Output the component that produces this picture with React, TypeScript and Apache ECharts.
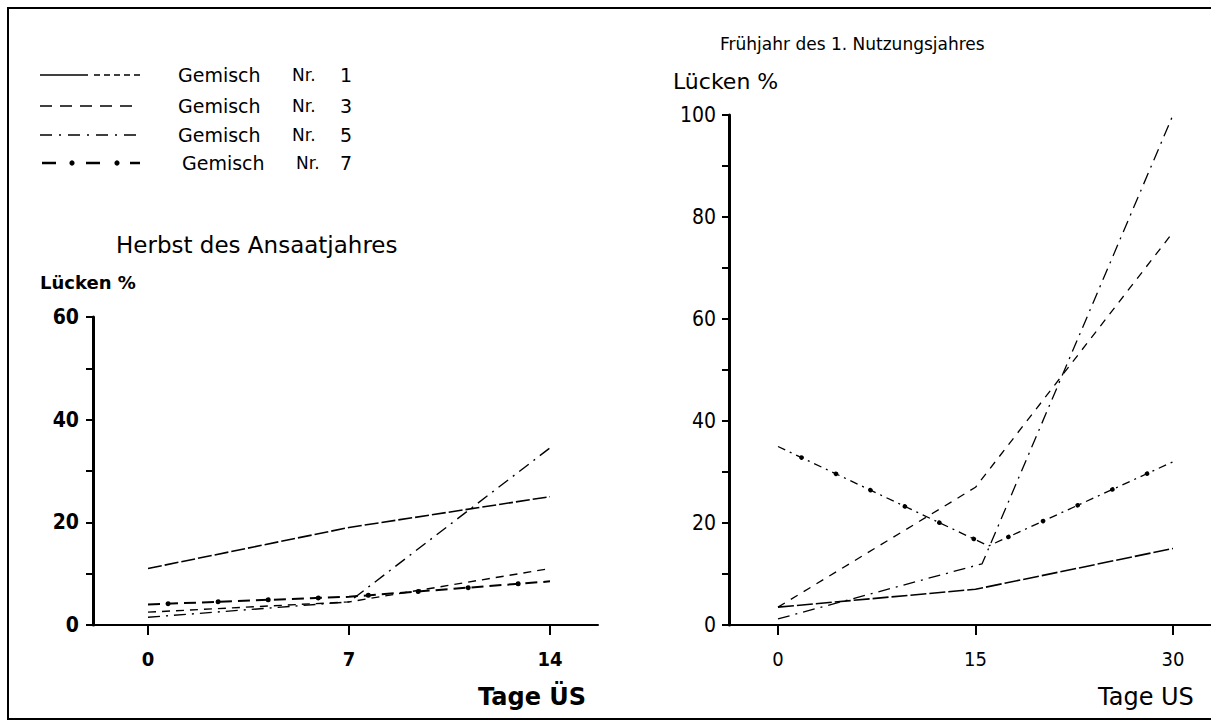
import { useEffect, useRef } from "react";
import * as echarts from "echarts";

// Herbst des Ansaatjahres: days after stress (Tage ÜS) and gap share (Lücken %)
const herbstDays = [0, 7, 14];
const herbstNr1 = [11, 19, 25];
const herbstNr3 = [2.5, 4.5, 11];
const herbstNr5 = [1.5, 4.5, 34.5];
const herbstNr7 = [4, 5.5, 8.5];

// Frühjahr des 1. Nutzungsjahres: [day, Lücken %]
const fruehNr1 = [[0, 3.5], [15, 7], [30, 15]];
const fruehNr3 = [[0, 3.5], [15, 27], [30, 77]];
const fruehNr5 = [[0, 1.2], [15.5, 12], [30, 100]];
const fruehNr7 = [[0, 35], [16, 15.5], [30, 32]];

const herbstTicks = [0, 7, 14];
const fruehTicks = [0, 15, 30];
const herbstYLabels = [0, 20, 40, 60];
const fruehYLabels = [0, 20, 40, 60, 80, 100];

const mixNames = ["Gemisch Nr. 1", "Gemisch Nr. 3", "Gemisch Nr. 5", "Gemisch Nr. 7"];
const mixNumbers = ["1", "3", "5", "7"];

const FONT = "'DejaVu Sans', sans-serif";
const COND = "'DejaVu Sans Condensed', 'DejaVu Sans', sans-serif";

export default function App() {
  const ref = useRef<HTMLDivElement>(null);

  useEffect(() => {
    document.body.style.margin = "0";
    if (!ref.current) return;
    const chart = echarts.init(ref.current, undefined, { renderer: "svg" });

    const pairs = (vals: number[]) => herbstDays.map((d, i) => [d, vals[i]]);

    const lineSeries = (
      name: string,
      data: number[][],
      idx: number,
      type: any,
      width = 1.4,
      extra: any = {}
    ) => ({
      name,
      type: "line",
      xAxisIndex: idx,
      yAxisIndex: idx,
      data,
      symbol: "none",
      silent: true,
      lineStyle: { color: "#000", width, type, ...extra },
    });

    const xAxisBase = (
      gridIndex: number,
      min: number,
      max: number,
      ticks: number[],
      weight: string
    ) => ({
      type: "value",
      gridIndex,
      min,
      max,
      splitLine: { show: false },
      axisLine: { lineStyle: { color: "#000", width: 2 } },
      axisTick: { customValues: ticks, length: 10, lineStyle: { color: "#000", width: 2 } },
      axisLabel: {
        customValues: ticks,
        margin: 24,
        color: "#000",
        fontSize: 20,
        fontWeight: weight,
        fontFamily: COND,
      },
    });

    const yAxisBase = (
      gridIndex: number,
      max: number,
      labels: number[],
      margin: number,
      weight: string
    ) => ({
      type: "value",
      gridIndex,
      min: 0,
      max,
      interval: 10,
      splitLine: { show: false },
      axisLine: { onZero: false, lineStyle: { color: "#000", width: 3 } },
      axisTick: { length: 7, lineStyle: { color: "#000", width: 2 } },
      axisLabel: {
        customValues: labels,
        margin,
        color: "#000",
        fontSize: 21,
        fontWeight: weight,
        fontFamily: COND,
      },
    });

    const legendRows = [75, 106, 135, 163];
    const legendGraphics: any[] = [];
    // Nr. 1: solid start, dashed tail
    legendGraphics.push({
      type: "line",
      shape: { x1: 40, y1: legendRows[0], x2: 88, y2: legendRows[0] },
      style: { stroke: "#000", lineWidth: 1.6 },
    });
    legendGraphics.push({
      type: "line",
      shape: { x1: 94, y1: legendRows[0], x2: 140, y2: legendRows[0] },
      style: { stroke: "#000", lineWidth: 1.4, lineDash: [6, 4] },
    });
    legendGraphics.push({
      type: "line",
      shape: { x1: 40, y1: legendRows[1], x2: 140, y2: legendRows[1] },
      style: { stroke: "#000", lineWidth: 1.5, lineDash: [12, 8] },
    });
    legendGraphics.push({
      type: "line",
      shape: { x1: 40, y1: legendRows[2], x2: 140, y2: legendRows[2] },
      style: { stroke: "#000", lineWidth: 1.5, lineDash: [12, 7, 2, 7] },
    });
    legendGraphics.push({
      type: "line",
      shape: { x1: 42, y1: legendRows[3], x2: 140, y2: legendRows[3] },
      style: { stroke: "#000", lineWidth: 2.5, lineDash: [14, 30] },
    });
    [72, 117].forEach((cx) =>
      legendGraphics.push({
        type: "circle",
        shape: { cx, cy: legendRows[3], r: 2.6 },
        style: { fill: "#000" },
      })
    );
    legendRows.forEach((y, i) => {
      legendGraphics.push({
        type: "text",
        x: i === 3 ? 182 : 178,
        y,
        style: { text: "Gemisch", font: `19px ${FONT}`, fill: "#000", verticalAlign: "middle" },
      });
      legendGraphics.push({
        type: "text",
        x: i === 3 ? 296 : 292,
        y,
        style: { text: "Nr.", font: `17px ${FONT}`, fill: "#000", verticalAlign: "middle" },
      });
      legendGraphics.push({
        type: "text",
        x: 340,
        y,
        style: { text: mixNumbers[i], font: `19px ${FONT}`, fill: "#000", verticalAlign: "middle" },
      });
    });

    const textEl = (text: string, x: number, y: number, font: string) => ({
      type: "text",
      x,
      y,
      style: { text, font, fill: "#000", verticalAlign: "middle" },
    });

    chart.setOption({
      animation: false,
      backgroundColor: "#fff",
      grid: [
        { left: 93, top: 317, width: 505, height: 308 },
        { left: 729, top: 115, width: 482, height: 510 },
      ],
      xAxis: [
        xAxisBase(0, -1.916, 15.672, herbstTicks, "bold"),
        xAxisBase(1, -3.72, 32.886, fruehTicks, "normal"),
      ],
      yAxis: [
        yAxisBase(0, 60, herbstYLabels, 14, "bold"),
        yAxisBase(1, 100, fruehYLabels, 13, "normal"),
      ],
      series: [
        lineSeries(mixNames[0], pairs(herbstNr1), 0, [14, 3], 1.6),
        lineSeries(mixNames[1], pairs(herbstNr3), 0, [8, 6], 1.4),
        lineSeries(mixNames[2], pairs(herbstNr5), 0, [12, 6, 2, 6], 1.4),
        lineSeries(mixNames[3], pairs(herbstNr7), 0, [12, 6], 2),
        lineSeries(mixNames[3], pairs(herbstNr7), 0, [0.1, 50], 5, { cap: "round", dashOffset: -20 }),
        lineSeries(mixNames[0], fruehNr1, 1, [16, 3], 1.6),
        lineSeries(mixNames[1], fruehNr3, 1, [8, 7], 1.3),
        lineSeries(mixNames[2], fruehNr5, 1, [12, 6, 2, 6], 1.3),
        lineSeries(mixNames[3], fruehNr7, 1, [8, 5, 2, 5], 1.3),
        lineSeries(mixNames[3], fruehNr7, 1, [0.1, 38], 4.5, { cap: "round", dashOffset: -26 }),
      ],
      graphic: [
        {
          type: "rect",
          shape: { x: 8, y: 8, width: 1260, height: 711 },
          style: { fill: "none", stroke: "#000", lineWidth: 2 },
        },
        ...legendGraphics,
        textEl("Herbst des Ansaatjahres", 116, 245, `23px ${FONT}`),
        textEl("Lücken %", 40, 282, `bold 18px ${FONT}`),
        textEl("Tage ÜS", 478, 697, `bold 24px ${FONT}`),
        textEl("Frühjahr des 1. Nutzungsjahres", 720, 44, `17px ${FONT}`),
        textEl("Lücken %", 673, 81, `22px ${FONT}`),
        textEl("Tage US", 1098, 697, `24px ${FONT}`),
      ],
    });

    return () => chart.dispose();
  }, []);

  return <div ref={ref} style={{ width: 1211, height: 722 }} />;
}
